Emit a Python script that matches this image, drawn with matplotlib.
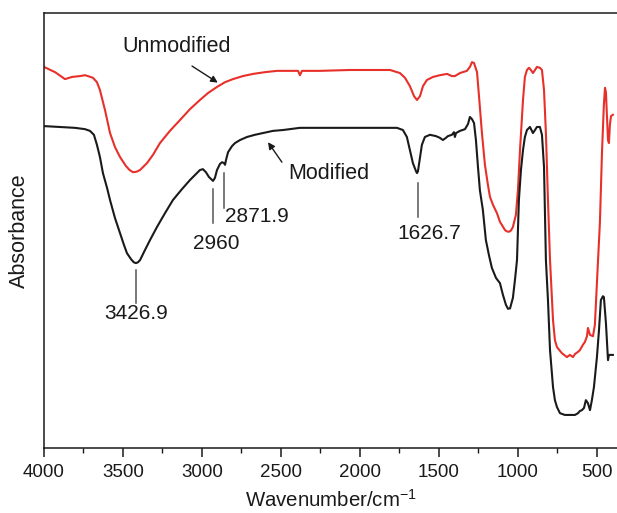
import matplotlib
matplotlib.use("Agg")
import matplotlib.pyplot as plt
from matplotlib.ticker import MultipleLocator

plt.rcParams['font.family'] = ['Liberation Sans', 'DejaVu Sans']
plt.rcParams['mathtext.fontset'] = 'custom'
plt.rcParams['mathtext.rm'] = 'Liberation Sans'
plt.rcParams['mathtext.it'] = 'Liberation Sans'

# Unmodified sample (red)
wn_unmod = [4000, 3930, 3867, 3823, 3772, 3741, 3722, 3690, 3665, 3646, 3614, 3582, 3551, 3519, 3481,
            3458, 3437, 3415, 3392, 3348, 3310, 3266, 3203, 3139, 3076, 3013, 2962, 2905, 2854, 2804, 2741, 2677,
            2601, 2525, 2443, 2392, 2380, 2367, 2316, 2253, 2063, 1810, 1747, 1715, 1684, 1658, 1639,
            1620, 1601, 1576, 1538, 1494, 1449, 1418, 1399, 1367, 1323, 1304, 1291, 1278, 1259, 1247,
            1228, 1209, 1190, 1177, 1158, 1133, 1114, 1082, 1070, 1057, 1044, 1032, 1013, 1000, 987, 968, 956,
            943, 930, 918, 905, 892, 880, 861, 848, 835, 823, 810, 797, 778, 766, 753,
            722, 690, 671, 652, 639, 620, 608, 589, 576, 563, 557, 544, 525, 513, 500,
            481, 468, 456, 449, 443, 437, 430, 424, 418, 411, 399]
abs_unmod = [87.6, 86.4, 84.8, 85.3, 85.5, 85.7, 85.5, 85.1, 84.1, 82.3, 77.7, 72.4, 69.2, 66.9, 64.8,
             63.9, 63.4, 63.5, 63.9, 65.5, 67.4, 70.1, 72.9, 75.4, 77.9, 80.0, 81.6, 83.0, 84.1, 84.8, 85.5, 86.0,
             86.4, 86.7, 86.7, 86.7, 85.7, 86.7, 86.7, 86.7, 86.9, 86.9, 86.2, 85.1, 83.2, 80.9, 80.0,
             80.9, 83.2, 84.6, 85.3, 85.7, 86.0, 85.5, 85.5, 86.2, 86.7, 87.6, 88.7, 88.5, 86.4, 81.1,
             72.4, 65.1, 60.5, 57.7, 55.9, 54.0, 52.0, 50.1, 49.8, 49.7, 50.0, 50.8, 53.6, 59.3, 68.5, 80.0, 85.3,
             86.9, 87.4, 86.9, 86.2, 86.9, 87.6, 87.4, 86.9, 82.3, 72.4, 57.0, 43.2, 29.4, 24.8, 23.2,
             21.8, 20.9, 21.4, 20.9, 21.6, 22.1, 22.5, 23.7, 24.4, 25.7, 27.6, 26.0, 25.7, 28.3, 38.0,
             52.0, 68.0, 79.0, 82.8, 81.8, 76.6, 70.8, 70.1, 74.3, 76.3, 76.6]

# Modified sample (black)
wn_mod = [4000, 3899, 3804, 3741, 3709, 3684, 3665, 3646, 3627, 3601, 3582, 3551, 3519, 3494, 3475,
          3449, 3432, 3418, 3405, 3392, 3361, 3329, 3285, 3234, 3184, 3127, 3076, 3038, 3013, 2994, 2975, 2956,
          2930, 2918, 2905, 2886, 2873, 2861, 2854, 2848, 2835, 2810, 2791, 2759, 2715, 2665, 2614,
          2551, 2487, 2380, 2253, 2063, 1766, 1728, 1703, 1684, 1665, 1645, 1639, 1633, 1627, 1608, 1589, 1557,
          1519, 1494, 1475, 1456, 1443, 1418, 1405, 1399, 1392, 1367, 1335, 1316, 1304, 1291, 1278,
          1266, 1253, 1241, 1222, 1203, 1184, 1165, 1139, 1114, 1095, 1076, 1063, 1050, 1044, 1032, 1019,
          1006, 994, 981, 968, 956, 943, 924, 905, 892, 880, 861, 848, 835, 823, 810,
          797, 778, 766, 753, 734, 703, 671, 639, 620, 608, 595, 582, 570, 557, 544,
          532, 519, 500, 487, 475, 462, 456, 443, 430, 424, 399]
abs_mod = [74.0, 73.8, 73.6, 73.3, 72.9, 72.0, 69.7, 66.9, 63.2, 59.8, 57.0, 52.9, 49.4, 46.7, 44.8,
           43.4, 42.7, 42.5, 42.7, 43.2, 45.5, 47.8, 50.8, 54.0, 57.0, 59.5, 61.6, 63.0, 63.9, 64.1, 63.4, 62.3,
           61.4, 62.1, 63.9, 65.3, 65.7, 65.5, 65.1, 66.2, 68.0, 69.4, 70.1, 70.8, 71.5, 72.0, 72.4,
           72.9, 73.1, 73.6, 73.6, 73.6, 73.6, 73.1, 71.5, 68.5, 65.5, 63.6, 63.2, 63.6, 65.1, 69.7, 71.5, 72.0,
           71.7, 71.3, 70.8, 71.3, 71.7, 72.0, 72.6, 71.5, 72.4, 72.9, 73.3, 74.5, 76.1, 75.6, 74.7,
           70.8, 64.6, 59.3, 54.7, 47.8, 44.4, 41.4, 39.1, 37.9, 35.2, 32.9, 32.0, 32.1, 32.9, 34.5, 38.6,
           43.2, 57.0, 63.9, 68.5, 71.5, 73.1, 73.8, 72.4, 73.1, 73.8, 73.8, 72.0, 64.6, 43.2, 34.0,
           22.5, 14.0, 11.0, 9.4, 8.0, 7.6, 7.6, 7.6, 8.0, 8.5, 8.7, 9.2, 11.0, 10.3, 8.7,
           11.0, 14.0, 20.9, 27.1, 34.0, 34.9, 34.7, 28.7, 20.2, 21.4, 21.4]

# Peak labels
peak_labels = ["3426.9", "2960", "2871.9", "1626.7"]
peak_line_x = [3417, 2930, 2861, 1633]
peak_line_y0 = [40.9, 59.5, 63.2, 60.9]
peak_line_y1 = [33.3, 51.7, 55.2, 53.1]
peak_text_x = [3417, 2911, 2854, 1563]
peak_text_y = [31.0, 47.1, 53.3, 49.4]
peak_text_ha = ["center", "center", "left", "center"]

fig = plt.figure(figsize=(6.17, 5.13), dpi=100)
ax = fig.add_axes([44/617, 65/513, 1 - 44/617, (448-13)/513])

ax.plot(wn_unmod, abs_unmod, color='#e8302a', lw=1.5, solid_joinstyle='round')
ax.plot(wn_mod, abs_mod, color='#1a1a1a', lw=1.5, solid_joinstyle='round')

ax.set_xlim(4000, 373)
ax.set_ylim(0, 100)

for lab, lx, y0, y1, tx, ty, ha in zip(peak_labels, peak_line_x, peak_line_y0, peak_line_y1,
                                         peak_text_x, peak_text_y, peak_text_ha):
    ax.plot([lx, lx], [y0, y1], color='#555555', lw=1.1)
    ax.text(tx, ty, lab, ha=ha, va='center', fontsize=15, color='#1a1a1a')

ax.text(3158, 92.2, "Unmodified", ha='center', va='center', fontsize=15.5, color='#1a1a1a')
ax.annotate("", xy=(2900, 84.0), xytext=(3063, 87.8),
            arrowprops=dict(arrowstyle='-|>', color='#1a1a1a', lw=1.0, mutation_scale=10,
                            shrinkA=0, shrinkB=0))
ax.text(2196, 63.0, "Modified", ha='center', va='center', fontsize=15.5, color='#1a1a1a')
ax.annotate("", xy=(2582, 70.3), xytext=(2494, 65.7),
            arrowprops=dict(arrowstyle='-|>', color='#1a1a1a', lw=1.0, mutation_scale=10,
                            shrinkA=0, shrinkB=0))

ax.set_xticks([4000, 3500, 3000, 2500, 2000, 1500, 1000, 500])
ax.xaxis.set_minor_locator(MultipleLocator(250))
ax.tick_params(axis='x', which='major', direction='out', length=6.5, width=1.1,
               labelsize=13.5, pad=5, colors='#1a1a1a')
ax.tick_params(axis='x', which='minor', direction='out', length=3.5, width=1.0, colors='#1a1a1a')
ax.set_yticks([])

for s in ['left', 'top', 'bottom']:
    ax.spines[s].set_linewidth(1.1)
    ax.spines[s].set_color('#1a1a1a')
ax.spines['right'].set_visible(False)

ax.set_xlabel("Wavenumber/cm$^{-1}$", fontsize=14.7, labelpad=6, color='#1a1a1a')
ax.set_ylabel("Absorbance", fontsize=15.5, labelpad=10, color='#1a1a1a')

fig.savefig("out.png", dpi=100)
